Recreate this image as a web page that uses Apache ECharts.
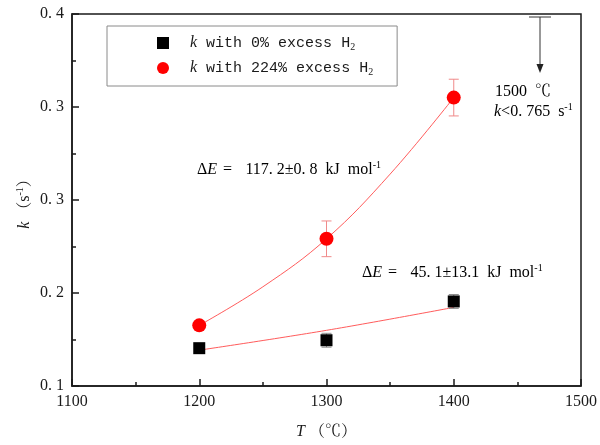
<!DOCTYPE html>
<html><head><meta charset="utf-8">
<script src="https://cdn.jsdelivr.net/npm/echarts@6/dist/echarts.min.js"></script>
<style>html,body{margin:0;padding:0;background:#fff}#c{width:600px;height:445px}</style>
</head><body><div id="c"></div>
<script>
// ---- data ----
const temps = [1200, 1300, 1400];
const k0 = [0.1305, 0.1369, 0.1682];
const k0Err = [0.002, 0.0056, 0.0056];
const k224 = [0.1489, 0.2187, 0.3326];
const k224Err = [0.002, 0.0144, 0.0148];
const fit0T = [1200, 1300, 1400];
const fit0K = [0.1289, 0.1449, 0.1634];
const fit224T = [1200, 1250, 1300, 1350, 1400];
const fit224K = [0.1489, 0.1800, 0.2187, 0.2709, 0.3326];
const xTickLabels = ['1100', '1200', '1300', '1400', '1500'];
const yTickLabels = ['0. 1', '0. 2', '0. 3', '0. 3', '0. 4'];
const seriesNames = ['k with 0% excess H2', 'k with 224% excess H2'];

const SERIF = "'Liberation Serif', 'Noto Serif CJK SC', 'Noto Sans CJK SC', serif";
const MONO = "'Liberation Mono', 'DejaVu Sans Mono', monospace";
const INK = '#1a1a1a';

function pairs(xs, ys) { return xs.map((x, i) => [x, ys[i]]); }
function errData(xs, ys, es) { return xs.map((x, i) => [x, ys[i] - es[i], ys[i] + es[i]]); }

function errRender(params, api) {
  const x = api.value(0), lo = api.value(1), hi = api.value(2);
  const p1 = api.coord([x, lo]), p2 = api.coord([x, hi]);
  const w = 5;
  const style = { stroke: api.visual('color'), lineWidth: 1 };
  return { type: 'group', children: [
    { type: 'line', shape: { x1: p1[0], y1: p1[1], x2: p2[0], y2: p2[1] }, style },
    { type: 'line', shape: { x1: p1[0] - w, y1: p1[1], x2: p1[0] + w, y2: p1[1] }, style },
    { type: 'line', shape: { x1: p2[0] - w, y1: p2[1], x2: p2[0] + w, y2: p2[1] }, style }
  ]};
}

const rich = {
  i: { fontFamily: SERIF, fontStyle: 'italic', fontSize: 16, color: INK, lineHeight: 20 },
  t: { fontFamily: SERIF, fontSize: 16, color: INK, lineHeight: 20 },
  p: { fontFamily: SERIF, fontSize: 10, color: INK, lineHeight: 10, verticalAlign: 'top' },
  s: { fontFamily: SERIF, fontSize: 10, color: INK, lineHeight: 10, verticalAlign: 'bottom' }
};
const annRich = {
  i: { fontFamily: SERIF, fontStyle: 'italic', fontSize: 16, color: INK, lineHeight: 20 },
  t: { fontFamily: SERIF, fontSize: 16, color: INK, lineHeight: 20 },
  w: { fontFamily: SERIF, fontSize: 16, color: INK, lineHeight: 20, padding: [0, 2, 0, 2] },
  p: { fontFamily: SERIF, fontSize: 10, color: INK, lineHeight: 10, verticalAlign: 'top' }
};
const legendRich = {
  i: { fontFamily: SERIF, fontStyle: 'italic', fontSize: 16, color: INK, lineHeight: 18, padding: [0, 0, 0, 16] },
  t: { fontFamily: MONO, fontSize: 15, color: INK, lineHeight: 18 },
  s: { fontFamily: SERIF, fontSize: 10, color: INK, lineHeight: 10, verticalAlign: 'bottom' }
};

const chart = echarts.init(document.getElementById('c'), null, { renderer: 'canvas' });
chart.setOption({
  animation: false,
  backgroundColor: '#fff',
  grid: { left: 72, right: 14, top: 14, bottom: 57, show: true, borderColor: INK, borderWidth: 1.5, containLabel: false },
  legend: {
    orient: 'vertical', left: 107, top: 26,
    padding: [9, 24, 9, 50],
    borderColor: '#8a8a8a', borderWidth: 1,
    itemWidth: 12, itemHeight: 12, itemGap: 8,
    data: [{ name: seriesNames[0], icon: 'rect' }, { name: seriesNames[1], icon: 'circle' }],
    formatter: function (name) {
      return name === seriesNames[0]
        ? '{i|k}{t| with 0% excess H}{s|2}'
        : '{i|k}{t| with 224% excess H}{s|2}';
    },
    textStyle: { rich: legendRich }
  },
  xAxis: {
    type: 'value', min: 1100, max: 1500, interval: 100,
    name: '{i|T}{t| （℃）}', nameLocation: 'middle', nameGap: 36,
    nameTextStyle: { rich: rich },
    axisLine: { show: true, lineStyle: { color: INK, width: 1.5 } },
    axisTick: { show: true, inside: true, length: 7, lineStyle: { color: INK, width: 1.5 } },
    minorTick: { show: true, splitNumber: 2, length: 4, lineStyle: { color: INK, width: 1.5 } },
    splitLine: { show: false },
    axisLabel: {
      fontFamily: SERIF, fontSize: 16, color: INK, margin: 8,
      formatter: function (v) { return xTickLabels[Math.round((v - 1100) / 100)]; }
    }
  },
  yAxis: {
    type: 'value', min: 0.1, max: 0.4, interval: 0.075,
    name: '{i|k}{t| （s}{p|-1}{t|）}', nameLocation: 'middle', nameGap: 37, nameRotate: 90,
    nameMoveOverlap: false,
    nameTextStyle: { rich: rich },
    axisLine: { show: true, lineStyle: { color: INK, width: 1.5 } },
    axisTick: { show: true, inside: true, length: 7, lineStyle: { color: INK, width: 1.5 } },
    minorTick: { show: true, splitNumber: 2, length: 4, lineStyle: { color: INK, width: 1.5 } },
    splitLine: { show: false },
    axisLabel: {
      fontFamily: SERIF, fontSize: 16, color: INK, margin: 8,
      formatter: function (v) { return yTickLabels[Math.round((v - 0.1) / 0.075)]; }
    }
  },
  series: [
    { name: 'fit0', type: 'line', smooth: 0.4, showSymbol: false, symbol: 'none', data: pairs(fit0T, fit0K),
      lineStyle: { color: '#ff5c5c', width: 1 }, z: 2, silent: true },
    { name: 'fit224', type: 'line', smooth: 0.4, showSymbol: false, symbol: 'none', data: pairs(fit224T, fit224K),
      lineStyle: { color: '#ff5c5c', width: 1 }, z: 2, silent: true },
    { name: 'err0', type: 'custom', renderItem: errRender, data: errData(temps, k0, k0Err),
      encode: { x: 0, y: [1, 2] }, itemStyle: { color: '#8c8c8c' }, z: 3 },
    { name: 'err224', type: 'custom', renderItem: errRender, data: errData(temps, k224, k224Err),
      encode: { x: 0, y: [1, 2] }, itemStyle: { color: '#f08a8a' }, z: 3 },
    { name: seriesNames[0], type: 'scatter', symbol: 'rect', symbolSize: 12, data: pairs(temps, k0),
      itemStyle: { color: '#000', opacity: 1 }, z: 5 },
    { name: seriesNames[1], type: 'scatter', symbol: 'circle', symbolSize: 14, data: pairs(temps, k224),
      itemStyle: { color: '#ff0000', opacity: 1 }, z: 5 }
  ],
  graphic: [
    { type: 'text', x: 197, y: 170, style: { text: '{t|Δ}{i|E}{w| = } {t| 117. 2±0. 8  kJ  mol}{p|-1}', rich: annRich, verticalAlign: 'middle' } },
    { type: 'text', x: 362, y: 273, style: { text: '{t|Δ}{i|E}{w| = } {t| 45. 1±13.1  kJ  mol}{p|-1}', rich: annRich, verticalAlign: 'middle' } },
    { type: 'text', x: 495, y: 92, style: { text: '{t|1500  ℃}', rich: annRich, verticalAlign: 'middle' } },
    { type: 'text', x: 494, y: 112, style: { text: '{i|k}{t|<0. 765  s}{p|-1}', rich: annRich, verticalAlign: 'middle' } },
    { type: 'line', shape: { x1: 529, y1: 17, x2: 551, y2: 17 }, style: { stroke: '#333', lineWidth: 1 } },
    { type: 'line', shape: { x1: 540, y1: 17, x2: 540, y2: 66 }, style: { stroke: '#333', lineWidth: 1 } },
    { type: 'polygon', shape: { points: [[536.5, 64], [543.5, 64], [540, 73]] }, style: { fill: '#222' } }
  ]
});
</script>
</body></html>
